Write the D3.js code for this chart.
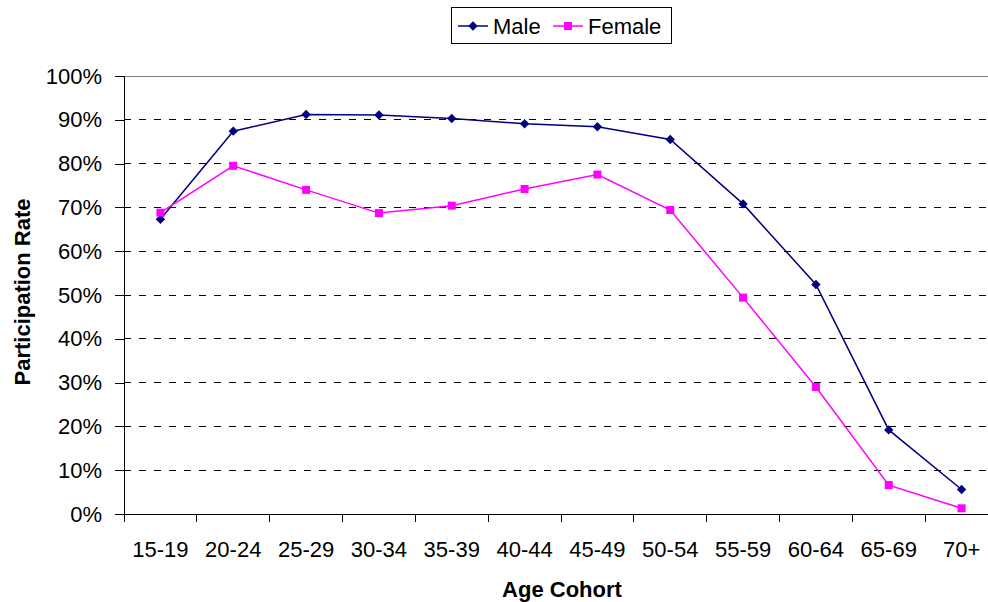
<!DOCTYPE html>
<html>
<head>
<meta charset="utf-8">
<script src="https://cdn.jsdelivr.net/npm/d3@7"></script>
<style>
  body { margin: 0; background: #fff; }
  text { font-family: "Liberation Sans", Arial, sans-serif; fill: #000; }
</style>
</head>
<body>
<div id="chart"></div>
<script>
const categories = ['15-19', '20-24', '25-29', '30-34', '35-39', '40-44', '45-49', '50-54', '55-59', '60-64', '65-69', '70+'];
const maleRate = [67.3, 87.4, 91.2, 91.1, 90.3, 89.1, 88.4, 85.5, 70.8, 52.4, 19.2, 5.6];
const femaleRate = [68.8, 79.5, 74.0, 68.7, 70.4, 74.2, 77.5, 69.4, 49.4, 29.0, 6.6, 1.3];
const yTicks = [0, 10, 20, 30, 40, 50, 60, 70, 80, 90, 100];

const width = 988, height = 602;
const M = { top: 76, left: 124, bottom: 88, right: -10 };
const innerW = width - M.left - M.right;
const innerH = height - M.top - M.bottom;
const FONT = 'Liberation Sans, Arial, sans-serif';

const svg = d3.select('#chart').append('svg')
  .attr('width', width).attr('height', height)
  .attr('viewBox', `0 0 ${width} ${height}`);
const g = svg.append('g').attr('transform', `translate(${M.left},${M.top})`);

const x = d3.scaleBand().domain(categories).range([0, innerW]);
const y = d3.scaleLinear().domain([0, 100]).range([innerH, 0]);
const cx = (c) => x(c) + x.bandwidth() / 2;

// gridlines
g.append('g').selectAll('line').data(yTicks.filter((t) => t > 0)).join('line')
  .attr('x1', 0).attr('x2', innerW)
  .attr('y1', (t) => y(t)).attr('y2', (t) => y(t))
  .attr('stroke', (t) => t === 100 ? '#808080' : '#000')
  .attr('stroke-width', 1)
  .attr('stroke-dasharray', (t) => t === 100 ? null : '7,8')
  .attr('shape-rendering', 'crispEdges');

// y axis
const yAxis = g.append('g')
  .call(d3.axisLeft(y).tickValues(yTicks).tickSize(9).tickPadding(13).tickFormat((d) => d + '%'));
yAxis.select('.domain').attr('d', `M0,0V${innerH}`);
yAxis.selectAll('line, path').attr('stroke', '#000').attr('shape-rendering', 'crispEdges');
yAxis.selectAll('text').attr('font-size', 22).attr('font-family', FONT);

// x axis
const xAxis = g.append('g').attr('transform', `translate(0,${innerH})`)
  .call(d3.axisBottom(x).tickSize(0).tickPadding(27));
xAxis.select('.domain').attr('d', `M0,0H${innerW}`);
xAxis.selectAll('path').attr('stroke', '#000').attr('shape-rendering', 'crispEdges');
xAxis.selectAll('text').attr('font-size', 22).attr('font-family', FONT);
g.append('g').selectAll('line').data(categories).join('line')
  .attr('x1', (c) => x(c)).attr('x2', (c) => x(c))
  .attr('y1', innerH).attr('y2', innerH + 8)
  .attr('stroke', '#000').attr('shape-rendering', 'crispEdges');

// axis titles
svg.append('text')
  .attr('x', 562).attr('y', 597)
  .attr('text-anchor', 'middle').attr('font-size', 22).attr('font-weight', 'bold')
  .text('Age Cohort');
svg.append('text')
  .attr('transform', 'rotate(-90)')
  .attr('x', -292).attr('y', 30)
  .attr('text-anchor', 'middle').attr('font-size', 22).attr('font-weight', 'bold')
  .text('Participation Rate');

const line = d3.line().x((d, i) => cx(categories[i])).y((d) => y(d));
const diamond = d3.symbol().type(d3.symbolDiamond2).size(56);

g.append('path').datum(maleRate).attr('d', line)
  .attr('fill', 'none').attr('stroke', '#000080').attr('stroke-width', 1.5);
g.append('path').datum(femaleRate).attr('d', line)
  .attr('fill', 'none').attr('stroke', '#FF00FF').attr('stroke-width', 1.5);

g.append('g').selectAll('path').data(maleRate).join('path')
  .attr('d', diamond)
  .attr('transform', (d, i) => `translate(${cx(categories[i])},${y(d)})`)
  .attr('fill', '#000080');
g.append('g').selectAll('rect').data(femaleRate).join('rect')
  .attr('x', (d, i) => cx(categories[i]) - 4).attr('y', (d) => y(d) - 4)
  .attr('width', 8).attr('height', 8)
  .attr('fill', '#FF00FF');

// legend
const leg = svg.append('g');
leg.append('rect').attr('x', 451.5).attr('y', 7.5).attr('width', 220).attr('height', 36)
  .attr('fill', '#fff').attr('stroke', '#000').attr('stroke-width', 1);
const legItems = [
  { name: 'Male', color: '#000080', x0: 458, shape: 'diamond' },
  { name: 'Female', color: '#FF00FF', x0: 553, shape: 'square' }
];
legItems.forEach((it) => {
  leg.append('line').attr('x1', it.x0).attr('x2', it.x0 + 30).attr('y1', 26).attr('y2', 26)
    .attr('stroke', it.color).attr('stroke-width', 1.5);
  if (it.shape === 'diamond') {
    leg.append('path').attr('d', diamond).attr('transform', `translate(${it.x0 + 15},26)`).attr('fill', it.color);
  } else {
    leg.append('rect').attr('x', it.x0 + 11).attr('y', 22).attr('width', 8).attr('height', 8).attr('fill', it.color);
  }
  leg.append('text').attr('x', it.x0 + 35).attr('y', 34).attr('font-size', 22).text(it.name);
});
</script>
</body>
</html>
